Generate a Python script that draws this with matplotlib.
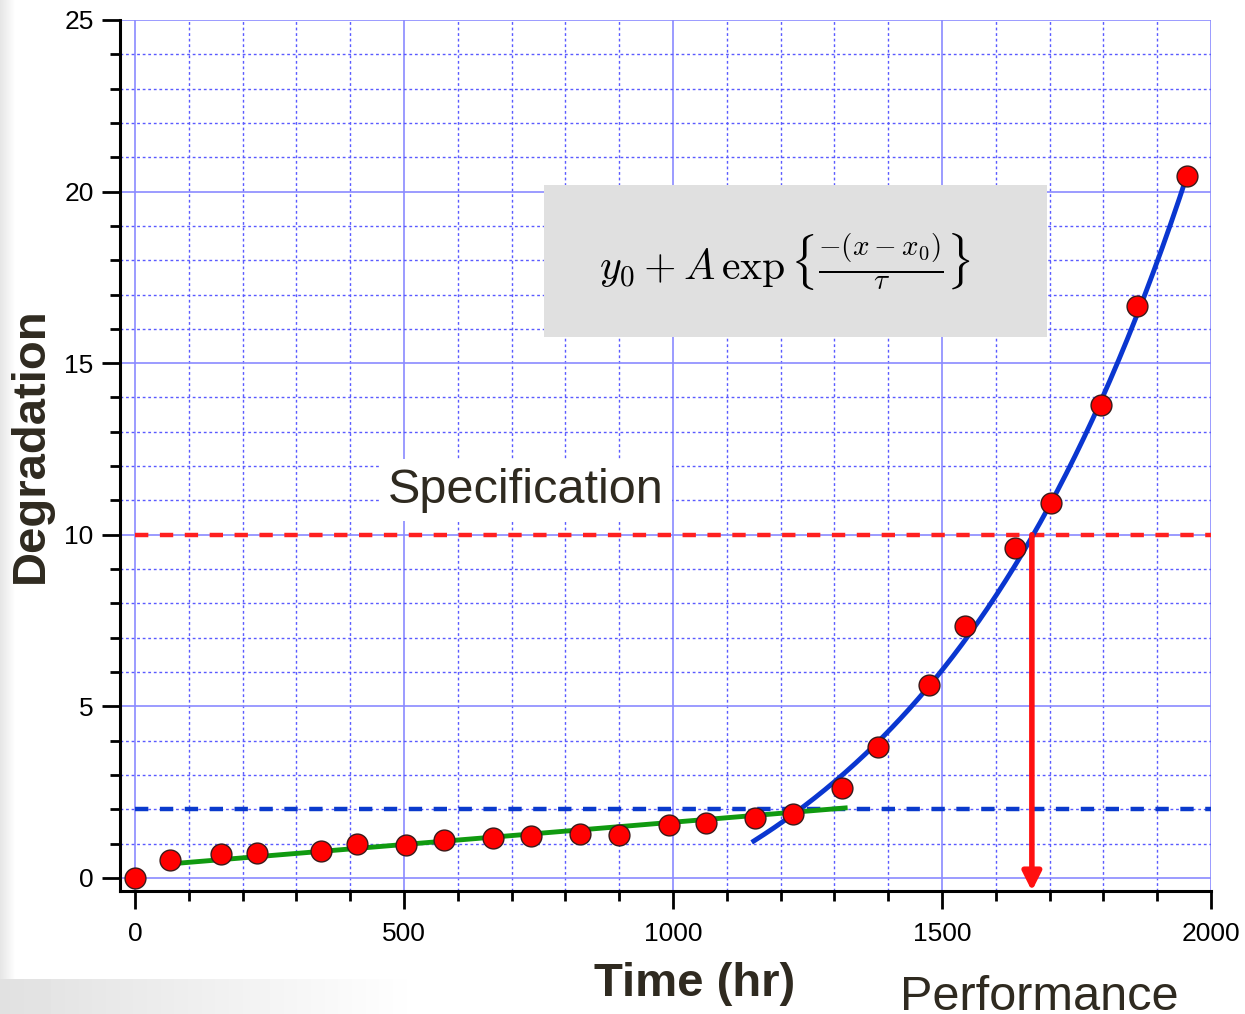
import numpy as np
import matplotlib.pyplot as plt
from matplotlib.patches import Rectangle
from matplotlib.ticker import MultipleLocator

plt.rcParams['font.family'] = ['Liberation Sans', 'DejaVu Sans']
plt.rcParams['mathtext.fontset'] = 'cm'

# measured degradation points
time_hr = [0, 65, 160, 227, 346, 413, 504, 574, 665, 736, 827, 900, 993, 1061,
           1152, 1223, 1314, 1381, 1476, 1543, 1636, 1703, 1796, 1862, 1955]
degradation = [0.0, 0.52, 0.70, 0.73, 0.79, 0.99, 0.96, 1.11, 1.17, 1.22, 1.28,
               1.25, 1.54, 1.60, 1.75, 1.86, 2.62, 3.82, 5.62, 7.34, 9.62,
               10.93, 13.78, 16.67, 20.45]

# linear fit (early stage) end points
lin_x = [65, 1320]
lin_y = [0.41, 2.04]

# exponential fit y0 + A*exp((x - x0)/tau)
fit_y0, fit_A, fit_x0, fit_tau = -4.0, 0.537, 0.0, 512.0
fit_range = (1150, 1958)

spec_level = 10
base_level = 2
fail_time = 1667

fig = plt.figure(figsize=(12.45, 10.14), dpi=100)

# slide shadow in the background
bg = fig.add_axes([0, 0, 1, 1], zorder=-10)
h, w = 1014, 1245
yy, xx = np.mgrid[0:h, 0:w]
shade = np.ones((h, w))
left = (xx < 15) * np.clip((15 - xx) / 15, 0, 1) * 0.10
corner = (yy > 978) * np.clip((420 - xx) / 420, 0, 1) * 0.12
shade = shade - np.maximum(left, corner)
bg.imshow(shade, cmap='gray', vmin=0, vmax=1, aspect='auto', interpolation='bilinear')
bg.axis('off')

ax = fig.add_axes([0.0964, 0.1213, 0.8763, 0.859])
ax.set_xlim(-28, 2000)
ax.set_ylim(-0.38, 25)

ax.xaxis.set_major_locator(MultipleLocator(500))
ax.xaxis.set_minor_locator(MultipleLocator(100))
ax.yaxis.set_major_locator(MultipleLocator(5))
ax.yaxis.set_minor_locator(MultipleLocator(1))
ax.grid(which='major', color='#8a8aff', lw=1.2, ls='-')
ax.grid(which='minor', color='#5a5aff', lw=1.0, ls=(0, (2, 2)))
ax.set_axisbelow(True)

for s in ['top', 'right']:
    ax.spines[s].set_visible(False)
for s in ['left', 'bottom']:
    ax.spines[s].set_linewidth(2.2)
ax.tick_params(which='major', direction='out', length=13, width=2, labelsize=19)
ax.tick_params(axis='y', which='major', pad=6)
ax.tick_params(axis='x', which='major', pad=9)
ax.tick_params(which='minor', direction='out', length=7.5, width=2)

ax.set_xlabel('Time (hr)', fontsize=34, fontweight='bold', color='#2f2a20')
ax.set_ylabel('Degradation', fontsize=34, fontweight='bold', color='#2f2a20')
ax.xaxis.set_label_coords(0.527, -0.081)
ax.yaxis.set_label_coords(-0.062, 0.512)

# reference levels
ax.axhline(spec_level, xmin=28 / 2028, color='#ff2020', lw=3.2, ls=(0, (3, 2.6)), zorder=2)
ax.axhline(base_level, xmin=28 / 2028, color='#0a3acc', lw=3.2, ls=(0, (3, 2.6)), zorder=2)

# fits
ax.plot(lin_x, lin_y, color='#109a10', lw=3.5, zorder=3)
xf = np.linspace(fit_range[0], fit_range[1], 300)
ax.plot(xf, fit_y0 + fit_A * np.exp((xf - fit_x0) / fit_tau), color='#0a36d0', lw=3.5, zorder=4)

# data
ax.plot(time_hr, degradation, 'o', ms=15, mfc='#ff0000', mec='#3a1a1a', mew=1.0, zorder=5)

# lifetime arrow
ax.annotate('', xy=(fail_time, -0.38), xytext=(fail_time, spec_level),
            arrowprops=dict(arrowstyle='-|>', color='#ff1010', lw=4,
                            mutation_scale=28, shrinkA=0, shrinkB=0), zorder=6)

# formula box
ax.add_patch(Rectangle((760, 15.76), 935, 4.43, facecolor='#e0e0e0', edgecolor='none', zorder=3))
ax.text(1208, 17.95, r'$y_0 + A\,\exp\left\{\frac{-(x-x_0)}{\tau}\right\}$',
        fontsize=30, ha='center', va='center', zorder=4)

ax.text(727, 11.3, 'Specification', fontsize=35, color='#2f2a20', ha='center', va='center',
        bbox=dict(facecolor='white', edgecolor='none', pad=6), zorder=3)

fig.text(900 / 1245, 1 - 1010 / 1014, 'Performance', fontsize=35, color='#2f2a20',
         ha='left', va='baseline')

fig.savefig('out.png', dpi=100)
